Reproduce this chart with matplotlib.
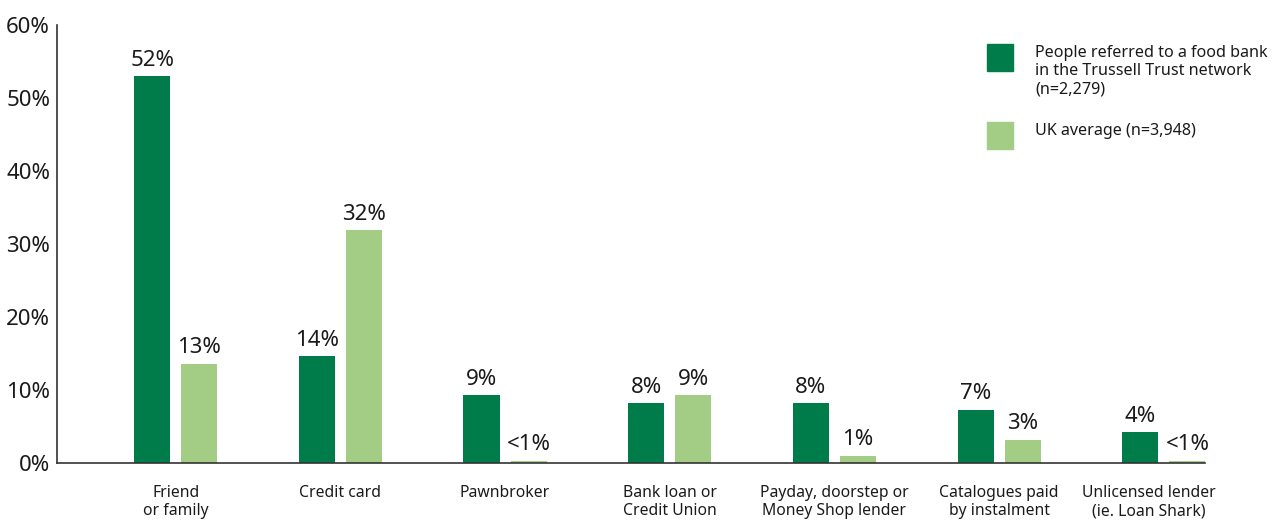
import numpy as np
import matplotlib
matplotlib.use("Agg")
import matplotlib.pyplot as plt
from matplotlib.patches import Rectangle
import matplotlib.transforms as mtransforms

plt.rcParams['font.family'] = ['Noto Sans', 'DejaVu Sans']

categories = ["Friend\nor family", "Credit card", "Pawnbroker", "Bank loan or\nCredit Union",
              "Payday, doorstep or\nMoney Shop lender", "Catalogues paid\nby instalment",
              "Unlicensed lender\n(ie. Loan Shark)"]
foodbank = [53.0, 14.6, 9.3, 8.2, 8.2, 7.3, 4.2]
foodbank_labels = ["52%", "14%", "9%", "8%", "8%", "7%", "4%"]
uk_avg = [13.6, 31.9, 0.3, 9.3, 1.0, 3.2, 0.3]
uk_labels = ["13%", "32%", "<1%", "9%", "1%", "3%", "<1%"]
legend_labels = ["People referred to a food bank\nin the Trussell Trust network\n(n=2,279)",
                 "UK average (n=3,948)"]

dark = "#007C4A"
light = "#A3CD84"

fig = plt.figure(figsize=(12.79, 5.2), dpi=100)
ax = fig.add_axes([0.0446, 0.1096, 0.8976, 0.8424])

x = np.arange(len(categories))
w = 0.219
off = 0.143
b1 = ax.bar(x - off, foodbank, w, color=dark)
b2 = ax.bar(x + off, uk_avg, w, color=light)

for bars, labs in ((b1, foodbank_labels), (b2, uk_labels)):
    for r, lab in zip(bars, labs):
        ax.annotate(lab, (r.get_x() + r.get_width() / 2, r.get_height()),
                    xytext=(0, 4), textcoords="offset points",
                    ha="center", va="bottom", fontsize=16, color="#1a1a1a")

ax.set_xlim(-0.72, 6.25)
ax.set_ylim(0, 60)
ax.set_yticks(range(0, 61, 10))
ax.set_yticklabels([f"{v}%" for v in range(0, 61, 10)], fontsize=16, color="#1a1a1a")
ax.set_xticks(x)
ax.set_xticklabels(categories, fontsize=11.3, color="#1a1a1a", linespacing=1.15)
ax.tick_params(axis="both", length=0)
ax.tick_params(axis="x", pad=16)
ax.tick_params(axis="y", pad=5)
# last label sits a little left in the original
last = ax.get_xticklabels()[-1]
last.set_transform(last.get_transform() + mtransforms.ScaledTranslation(-0.15, 0, fig.dpi_scale_trans))
for s in ("top", "right"):
    ax.spines[s].set_visible(False)
for s in ("left", "bottom"):
    ax.spines[s].set_color("#333333")
    ax.spines[s].set_linewidth(1.2)

# legend
W, H = 1279, 520
for i, (col, lab) in enumerate(zip([dark, light], legend_labels)):
    top = [44, 122][i]
    fig.add_artist(Rectangle((987 / W, 1 - (top + 27) / H), 26 / W, 27 / H,
                             transform=fig.transFigure, color=col))
    fig.text(1035 / W, 1 - (top + 1) / H, lab, fontsize=11.6, va="top", ha="left",
             color="#1a1a1a", linespacing=1.2)

fig.savefig("out.png", dpi=100)
